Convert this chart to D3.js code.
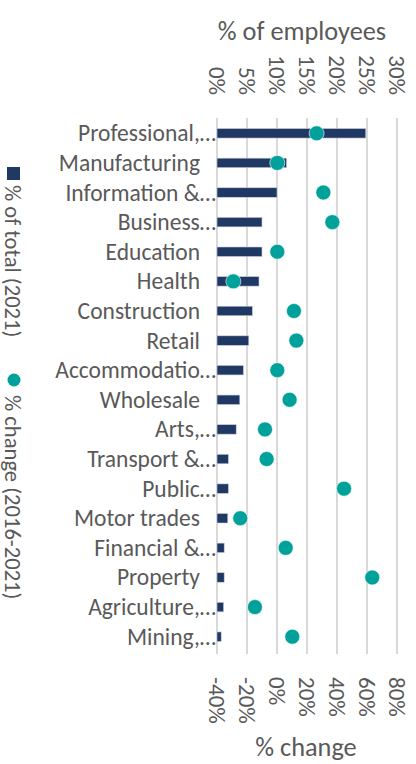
<!DOCTYPE html>
<html>
<head>
<meta charset="utf-8">
<script src="https://cdn.jsdelivr.net/npm/d3@7"></script>
<style>
  html, body { margin: 0; padding: 0; background: #ffffff; }
  svg { display: block; }
  text { font-family: Carlito, Lato, "Open Sans", sans-serif; fill: #595959; }
</style>
</head>
<body>
<svg id="chart" width="416" height="764"></svg>
<script>
// ---- data ----
const categories = [
  "Professional,…", "Manufacturing", "Information &…", "Business…", "Education",
  "Health", "Construction", "Retail", "Accommodatio…", "Wholesale", "Arts,…",
  "Transport &…", "Public…", "Motor trades", "Financial &…", "Property",
  "Agriculture,…", "Mining,…"
];
const shareOfTotal2021 = [24.8, 11.6, 10.0, 7.5, 7.5, 7.0, 5.9, 5.3, 4.4, 3.8, 3.2, 1.9, 1.9, 1.8, 1.2, 1.2, 1.1, 0.7];
const change2016to2021 = [26.4, 0.2, 30.9, 36.9, 0.2, -29.1, 11.3, 12.9, 0.2, 8.4, -8.0, -6.9, 44.7, -24.5, 5.8, 63.5, -14.7, 10.2];
const shareTicks = [0, 5, 10, 15, 20, 25, 30];
const changeTicks = [-40, -20, 0, 20, 40, 60, 80];
const seriesNames = ["% of total (2021)", "% change (2016-2021)"];
const axisTitles = ["% of employees", "% change"];

// ---- layout ----
const barColor = "#1F3864";
const dotColor = "#00A19A";
const gridColor = "#D9D9D9";
const fsLabel = 23.5;
const fsTick = 23;
const fsLegend = 22.6;
const fsTitle = 26.3;

const svg = d3.select("#chart");
const xShare = d3.scaleLinear().domain([0, 30]).range([217, 397]);
const xChange = d3.scaleLinear().domain([-40, 80]).range([217, 397]);
const y = d3.scalePoint().domain(categories).range([118.5, 651.5]).padding(0.5);
const barH = 9.5;

// gridlines
svg.append("g").selectAll("line").data(shareTicks).join("line")
  .attr("x1", d => xShare(d)).attr("x2", d => xShare(d))
  .attr("y1", 118).attr("y2", 654)
  .attr("stroke", gridColor).attr("stroke-width", 2);

// top axis (rotated labels)
const topAxis = svg.append("g")
  .attr("transform", "translate(0,95)")
  .call(d3.axisTop(xShare).tickValues(shareTicks).tickFormat(d => d + "%").tickSize(0));
topAxis.select(".domain").remove();
topAxis.selectAll("text")
  .attr("transform", "rotate(90)")
  .attr("x", 0).attr("y", 0).attr("dy", "0.35em")
  .attr("text-anchor", "end")
  .style("font-size", fsTick + "px").style("font-family", null).attr("fill", "#595959");

// bottom axis (rotated labels)
const botAxis = svg.append("g")
  .attr("transform", "translate(0,677)")
  .call(d3.axisBottom(xChange).tickValues(changeTicks).tickFormat(d => d + "%").tickSize(0));
botAxis.select(".domain").remove();
botAxis.selectAll("text")
  .attr("transform", "rotate(90)")
  .attr("x", 0).attr("y", 0).attr("dy", "0.35em")
  .attr("text-anchor", "start")
  .style("font-size", fsTick + "px").style("font-family", null).attr("fill", "#595959");

// axis titles
svg.append("text").attr("x", 302).attr("y", 40).attr("text-anchor", "middle")
  .style("font-size", fsTitle + "px").text(axisTitles[0]);
svg.append("text").attr("x", 306).attr("y", 756).attr("text-anchor", "middle")
  .style("font-size", fsTitle + "px").text(axisTitles[1]);

// category labels
svg.append("g").selectAll("text").data(categories).join("text")
  .attr("x", d => d.endsWith("…") ? 216 : 200)
  .attr("y", d => y(d) + 8)
  .attr("text-anchor", "end")
  .style("font-size", fsLabel + "px")
  .text(d => d);

// bars
svg.append("g").selectAll("rect").data(categories).join("rect")
  .attr("x", xShare(0))
  .attr("y", d => y(d) - barH / 2)
  .attr("width", (d, i) => xShare(shareOfTotal2021[i]) - xShare(0))
  .attr("height", barH)
  .attr("fill", barColor)
  .attr("stroke", "#C9CED9").attr("stroke-width", 0.6);

// dots
svg.append("g").selectAll("circle").data(categories).join("circle")
  .attr("cx", (d, i) => xChange(change2016to2021[i]))
  .attr("cy", d => y(d))
  .attr("r", 7.5)
  .attr("fill", dotColor)
  .attr("stroke", "#ffffff").attr("stroke-width", 0.6);

// legend (rotated)
svg.append("rect").attr("x", 7).attr("y", 167).attr("width", 13).attr("height", 13).attr("fill", barColor);
svg.append("text").attr("transform", "translate(13,185) rotate(90)")
  .attr("dy", "0.35em").attr("text-anchor", "start")
  .style("font-size", fsLegend + "px").text(seriesNames[0]);
svg.append("circle").attr("cx", 14).attr("cy", 380).attr("r", 6.5).attr("fill", dotColor);
svg.append("text").attr("transform", "translate(13,395) rotate(90)")
  .attr("dy", "0.35em").attr("text-anchor", "start")
  .style("font-size", fsLegend + "px").text(seriesNames[1]);
</script>
</body>
</html>
